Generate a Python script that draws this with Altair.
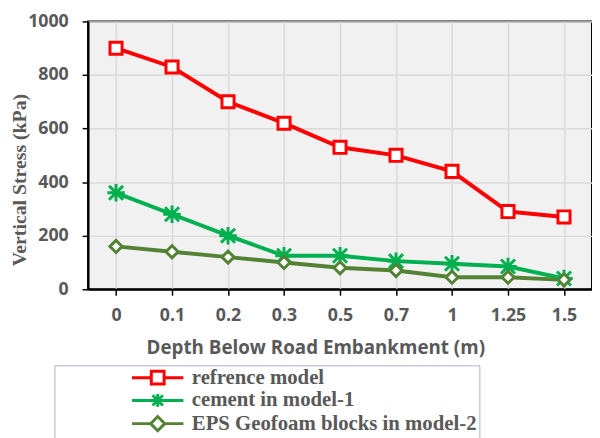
import altair as alt
import pandas as pd

depth = ["0", "0.1", "0.2", "0.3", "0.5", "0.7", "1", "1.25", "1.5"]
series_names = ["refrence model", "cement in model-1", "EPS Geofoam blocks in model-2"]
ref_model = [900, 830, 700, 620, 530, 500, 440, 290, 270]
cement_model = [360, 280, 200, 125, 125, 105, 95, 85, 40]
eps_model = [160, 140, 120, 100, 80, 70, 45, 45, 35]
colors = ["#ff0000", "#00b050", "#548235"]

rows = []
for name, vals in zip(series_names, [ref_model, cement_model, eps_model]):
    for d, v in zip(depth, vals):
        rows.append({"depth": d, "stress": v, "series": name})
df = pd.DataFrame(rows)

ASTER = "M-1,-1L1,1M-1,1L1,-1M0,-1.25V1.25M-1.25,0H1.25"
plot_shapes = ["square", ASTER, "diamond"]
plot_sizes = [150, 200, 150]
legend_shapes = [
    "M-4,0H-1M1,0H4M-1,-1H1V1H-1Z",
    "M-4,0H4M-0.8,-0.8L0.8,0.8M-0.8,0.8L0.8,-0.8M0,-1V1",
    "M-4,0H-1.1M1.1,0H4M0,-1.1L1.1,0L0,1.1L-1.1,0Z",
]

grey = "#595959"
sans = "Open Sans"
serif = "Liberation Serif"
NBSP = "\u00a0"

x_enc = alt.X(
    "depth:N",
    sort=depth,
    scale=alt.Scale(paddingInner=0, paddingOuter=0),
    axis=alt.Axis(
        title="Depth Below Road Embankment (m)",
        labelAngle=0,
        bandPosition=0,
        grid=True,
        gridColor="#dadada",
        gridWidth=1.5,
        domainColor="black",
        domainWidth=2,
        tickColor="black",
        tickWidth=1.5,
        tickSize=6,
        labelFont=sans,
        labelFontSize=18,
        labelFontWeight="bold",
        labelColor=grey,
        labelPadding=12,
        titleFont=sans,
        titleFontSize=19,
        titleFontWeight="bold",
        titleColor=grey,
        titlePadding=14,
        titleX=230,
        titleAlign="center",
    ),
)
y_enc = alt.Y(
    "stress:Q",
    scale=alt.Scale(domain=[0, 1000]),
    axis=alt.Axis(
        title="Vertical Stress (kPa)",
        values=[0, 200, 400, 600, 800, 1000],
        format="d",
        grid=True,
        gridColor="#dadada",
        gridWidth=1.5,
        domainColor="black",
        domainWidth=2,
        tickColor="black",
        tickWidth=1.5,
        tickSize=6,
        labelFont=sans,
        labelFontSize=18,
        labelFontWeight="bold",
        labelColor=grey,
        labelPadding=14,
        titleFont=serif,
        titleFontSize=20,
        titleFontWeight="bold",
        titleColor=grey,
        titleX=-69,
        titleY=160,
        titleAlign="center",
        titleBaseline="middle",
    ),
)

color_scale = alt.Scale(domain=series_names, range=colors)

legend_cfg = dict(
    title=NBSP,
    titleOrient="left",
    titlePadding=92,
    titleFont=serif,
    titleFontSize=21,
    orient="none",
    legendX=-34,
    legendY=348,
    direction="vertical",
    padding=2,
    strokeColor="#a3b5c9",
    labelFont=serif,
    labelFontSize=21,
    labelFontWeight="bold",
    labelColor=grey,
    labelOffset=24,
    labelExpr="datum.label + '" + NBSP * 16 + "'",
    symbolSize=169,
    symbolStrokeWidth=3,
    symbolFillColor="white",
    symbolOpacity=1,
    rowPadding=-2.5,
    labelLimit=600,
)

legend_layer = alt.Chart(df).mark_point(filled=False, strokeWidth=3, opacity=0).encode(
    x=x_enc,
    y=y_enc,
    color=alt.Color("series:N", scale=color_scale, legend=alt.Legend(**legend_cfg)),
    shape=alt.Shape(
        "series:N",
        scale=alt.Scale(domain=series_names, range=legend_shapes),
        legend=alt.Legend(**legend_cfg),
    ),
)

lines = alt.Chart(df).mark_line(strokeWidth=4).encode(
    x=x_enc,
    y=y_enc,
    color=alt.Color("series:N", scale=color_scale),
)

point_layers = []
for name, shp, sz in zip(series_names, plot_shapes, plot_sizes):
    point_layers.append(
        alt.Chart(df)
        .transform_filter(alt.datum.series == name)
        .mark_point(filled=False, fill="white", fillOpacity=1, strokeWidth=3, opacity=1, shape=shp, size=sz)
        .encode(
            x=x_enc,
            y=y_enc,
            color=alt.Color("series:N", scale=color_scale),
        )
    )

chart = (
    alt.layer(legend_layer, lines, *point_layers)
    .properties(
        width=510,
        height=271,
        padding={"left": 2, "top": 2, "right": 0, "bottom": 0},
        background="white",
    )
    .configure_view(fill="#f1f1f1", stroke="black", strokeWidth=2)
    .configure_legend(labelFont=serif, labelFontSize=21, labelFontWeight="bold", labelColor=grey)
)

chart.save("out.html", embed_options={"renderer": "svg", "actions": False})
